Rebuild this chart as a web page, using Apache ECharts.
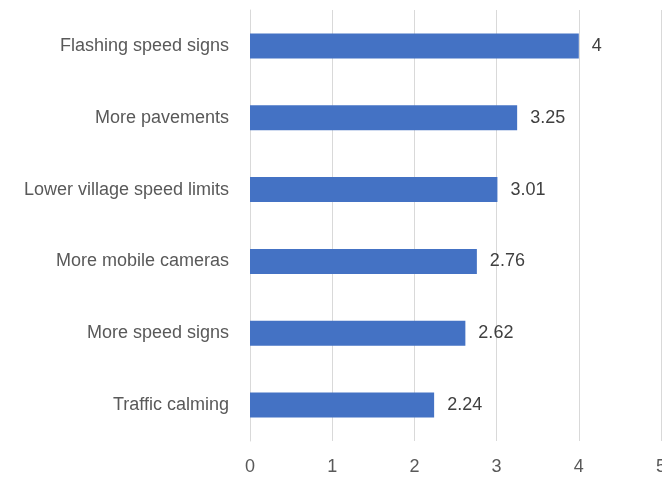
<!DOCTYPE html>
<html><head><meta charset="utf-8">
<script src="https://cdn.jsdelivr.net/npm/echarts@6/dist/echarts.min.js"></script>
<style>html,body{margin:0;padding:0;background:#fff}#c{width:662px;height:477px}</style>
</head><body><div id="c"></div>
<script>
const categories = ["Flashing speed signs","More pavements","Lower village speed limits","More mobile cameras","More speed signs","Traffic calming"];
const values = [4, 3.25, 3.01, 2.76, 2.62, 2.24];
const xTicks = [0,1,2,3,4,5];
const chart = echarts.init(document.getElementById('c'), null, {renderer:'canvas'});
const font = 'Liberation Sans';
chart.setOption({
  animation:false,
  grid:{left:250,right:1,top:10,bottom:36,containLabel:false,outerBoundsMode:'none'},
  xAxis:{type:'value',min:xTicks[0],max:xTicks[xTicks.length-1],interval:1,
    axisLine:{show:false},axisTick:{show:false},
    splitLine:{lineStyle:{color:'#d9d9d9',width:1}},
    axisLabel:{color:'#595959',fontSize:18,fontFamily:font,margin:17}},
  yAxis:{type:'category',inverse:true,data:categories,
    axisLine:{show:true,lineStyle:{color:'#d9d9d9'}},axisTick:{show:false},
    axisLabel:{color:'#595959',fontSize:18,fontFamily:font,margin:21}},
  series:[{type:'bar',data:values,barWidth:25,itemStyle:{color:'#4472C4'},
    label:{show:true,position:'right',distance:13,color:'#404040',fontSize:18,fontFamily:font}}]
});
</script></body></html>
